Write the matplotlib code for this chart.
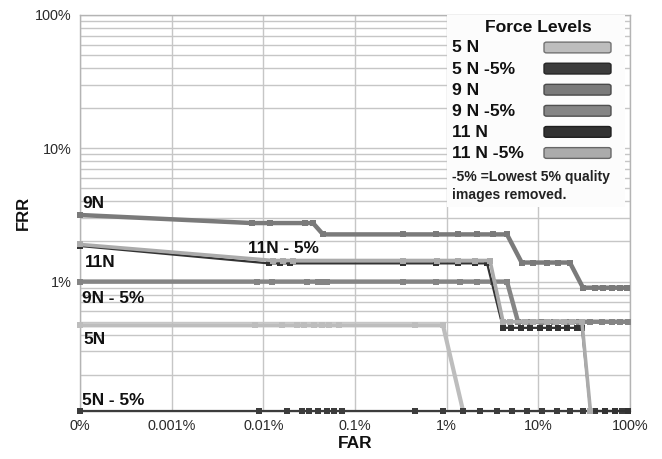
import numpy as np
import matplotlib
matplotlib.use("Agg")
import matplotlib.pyplot as plt
from matplotlib.ticker import LogLocator, FixedLocator, FixedFormatter, NullFormatter
from matplotlib.patches import Rectangle, FancyBboxPatch

plt.rcParams['font.family'] = ['Liberation Sans', 'DejaVu Sans']

# ROC points per force level: FAR (%) and FRR (%); 0 FRR sits on the axis floor
far_5n = [0.0001, 0.0081, 0.016, 0.0233, 0.0275, 0.0357, 0.0437, 0.0524, 0.0669, 0.451, 0.912, 1.51]
frr_5n = [0.47, 0.47, 0.47, 0.47, 0.47, 0.47, 0.47, 0.47, 0.47, 0.47, 0.47, 0.0]

far_5n_5 = [0.0001, 0.009, 0.018, 0.0262, 0.0311, 0.0399, 0.0492, 0.0583, 0.0717, 0.451, 0.912,
            1.51, 2.31, 3.54, 5.16, 7.52, 11.0, 16.0, 22.1, 30.7, 41.5, 53.3, 68.6, 82.0, 95.0]
frr_5n_5 = [0.0] * len(far_5n_5)

far_9n = [0.0001, 0.0075, 0.0118, 0.0285, 0.0348, 0.0448, 0.334, 0.766, 1.33, 2.14, 3.2, 4.55,
          6.58, 8.81, 12.3, 16.5, 22.1, 30.7, 41.5, 51.0, 64.0, 78.0, 93.0]
frr_9n = [3.16, 2.75, 2.75, 2.75, 2.75, 2.26, 2.26, 2.26, 2.26, 2.26, 2.26, 2.26,
          1.39, 1.39, 1.39, 1.39, 1.39, 0.9, 0.9, 0.9, 0.9, 0.9, 0.9]

far_9n_5 = [0.0001, 0.0085, 0.0124, 0.030, 0.0395, 0.0448, 0.0495, 0.334, 0.766, 1.40, 2.14, 3.2, 4.55,
            6.0, 8.0, 11.0, 15.0, 20.0, 28.0, 36.6, 49.5, 63.6, 78.0, 95.0]
frr_9n_5 = [1.0] * 13 + [0.5] * 11

far_11n = [0.0001, 0.0115, 0.0152, 0.0195, 0.334, 0.766, 1.33, 2.04, 2.76,
           4.12, 5.0, 6.5, 8.2, 10.3, 13.0, 16.3, 20.5, 26.6, 29.9, 37.0, 53.3, 68.6, 95.0]
frr_11n = [1.85] + [1.37] * 8 + [0.45] * 10 + [0.0] * 4

far_11n_5 = [0.0001, 0.0127, 0.0164, 0.0211, 0.334, 0.784, 1.33, 2.04, 2.97,
             4.12, 4.9, 7.1, 8.8, 12.3, 15.7, 19.2, 23.5, 29.9, 37.0]
frr_11n_5 = [1.9] + [1.44] * 8 + [0.5] * 9 + [0.0]

series = [
    ("5 N", far_5n, frr_5n, "#bdbdbd", 3.0, 4.2),
    ("5 N -5%", far_5n_5, frr_5n_5, "#3c3c3c", 1.6, 4.2),
    ("9 N", far_9n, frr_9n, "#7a7a7a", 3.2, 4.5),
    ("9 N -5%", far_9n_5, frr_9n_5, "#858585", 3.2, 4.5),
    ("11 N", far_11n, frr_11n, "#333333", 1.6, 3.8),
    ("11 N -5%", far_11n_5, frr_11n_5, "#ababab", 2.6, 4.2),
]

x_ticks = [0.0001, 0.001, 0.01, 0.1, 1, 10, 100]
x_labels = ["0%", "0.001%", "0.01%", "0.1%", "1%", "10%", "100%"]
y_ticks = [1, 10, 100]
y_labels = ["1%", "10%", "100%"]
Y_FLOOR = 0.107

W, H = 662, 459
fig = plt.figure(figsize=(W / 100, H / 100), dpi=100)
fig.patch.set_facecolor("white")


def fx(x):
    return x / W


def fy(y):
    return 1 - y / H


ax = fig.add_axes([fx(80), fy(411), 550 / W, 396 / H])
ax.set_xscale("log")
ax.set_yscale("log")
ax.set_xlim(0.0001, 100)
ax.set_ylim(Y_FLOOR, 100)

for label, far, frr, color, lw, ms in series:
    frr_plot = np.clip(np.array(frr), Y_FLOOR, None)
    ax.plot(far, frr_plot, color=color, lw=lw, marker="s", ms=ms,
            markeredgewidth=0, solid_joinstyle="miter", clip_on=False, zorder=3)

ax.xaxis.set_major_locator(FixedLocator(x_ticks))
ax.xaxis.set_major_formatter(FixedFormatter(x_labels))
ax.xaxis.set_minor_locator(FixedLocator([]))
ax.yaxis.set_major_locator(FixedLocator(y_ticks))
ax.yaxis.set_major_formatter(FixedFormatter(y_labels))
ax.yaxis.set_minor_locator(LogLocator(base=10, subs=np.arange(2, 10)))
ax.yaxis.set_minor_formatter(NullFormatter())

grid_kw = dict(color="#c6c6c6", lw=1.0)
ax.grid(True, which="major", axis="both", **grid_kw)
ax.grid(True, which="minor", axis="y", **grid_kw)
ax.set_axisbelow(True)
for s in ax.spines.values():
    s.set_color("#b4b4b4")
    s.set_linewidth(1.0)
ax.tick_params(which="both", length=0, labelsize=10.4, labelcolor="#2a2a2a")
ax.tick_params(axis="x", pad=5.5)
ax.tick_params(axis="y", pad=6)

# in-plot series labels
lbl_kw = dict(transform=ax.transAxes, fontsize=12.4, fontweight="bold", color="#111111",
              va="baseline", ha="left", zorder=5)
ax.text(0.0036, 0.513, "9N", **lbl_kw)
ax.text(0.305, 0.400, "11N - 5%", **lbl_kw)
ax.text(0.009, 0.364, "11N", **lbl_kw)
ax.text(0.0036, 0.273, "9N - 5%", **lbl_kw)
ax.text(0.0055, 0.170, "5N", **lbl_kw)
ax.text(0.0036, 0.015, "5N - 5%", **lbl_kw)

fig.text(fx(355), fy(444), "FAR", fontsize=12.5, fontweight="bold", color="#111111",
         ha="center", va="center")
fig.text(fx(23.5), fy(213), "FRR", fontsize=12.0, fontweight="bold", color="#111111",
         ha="center", va="center", rotation=90)

# legend panel
fig.add_artist(Rectangle((fx(447), fy(207)), 178 / W, 192 / H, transform=fig.transFigure,
                         facecolor="#fcfcfc", edgecolor="none", zorder=4))
fig.text(fx(538), fy(27), "Force Levels", fontsize=12.6, fontweight="bold", color="#111111",
         ha="center", va="center", zorder=6)
for i, (label, far, frr, color, lw, ms) in enumerate(series):
    yc = 48 + 21.1 * i
    fig.text(fx(452), fy(yc), label, fontsize=12.6, fontweight="bold", color="#111111",
             ha="left", va="center", zorder=6)
    edge = tuple(c * 0.6 for c in matplotlib.colors.to_rgb(color))
    fig.add_artist(FancyBboxPatch((fx(546), fy(yc + 3.5)), 63 / W, 8 / H,
                                  boxstyle="round,pad=0.003,rounding_size=0.004",
                                  transform=fig.transFigure, facecolor=color,
                                  edgecolor=edge, lw=1.0, zorder=6))
fig.text(fx(452), fy(177), "-5% =Lowest 5% quality", fontsize=10.1, fontweight="bold",
         color="#222222", ha="left", va="center", zorder=6)
fig.text(fx(452), fy(195), "images removed.", fontsize=10.1, fontweight="bold",
         color="#222222", ha="left", va="center", zorder=6)

fig.savefig("out.png", dpi=100)
